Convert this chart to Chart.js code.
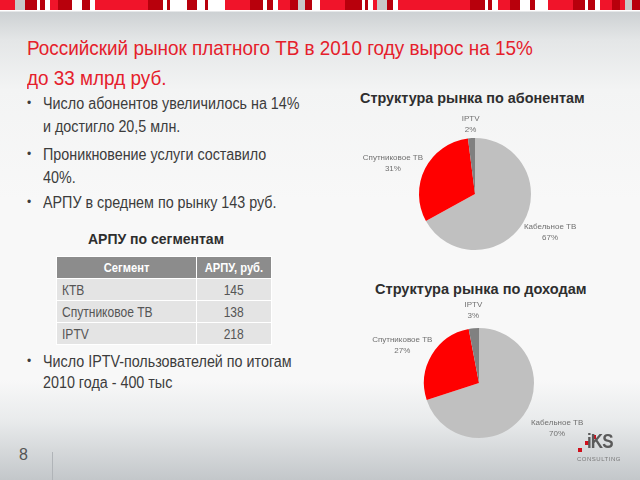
<!DOCTYPE html>
<html>
<head>
<meta charset="utf-8">
<script src="https://cdn.jsdelivr.net/npm/chart.js@4"></script>
<style>
  html, body { margin: 0; padding: 0; }
  body { width: 640px; height: 480px; overflow: hidden; font-family: "Liberation Sans", Arial, sans-serif; }
  #slide {
    position: relative; width: 640px; height: 480px; overflow: hidden;
    background: linear-gradient(to bottom, #ffffff 0px, #ffffff 11px, #cdd1d3 12px, #e4e6e7 40px, #f3f4f4 90px, #f8f8f8 200px, #f8f8f8 380px, #e9ebec 420px, #c3c7ca 480px);
  }
  .strip {
    position: absolute; left: 0; top: 0; width: 640px; height: 10px;
    background: linear-gradient(to right,
      #f0142a 0, #f0142a 15px, #c8c8c8 15px, #c8c8c8 25px, #b8000c 25px, #b8000c 37px, #fff 37px, #fff 40px,
      #b8000c 40px, #b8000c 45px, #fff 45px, #fff 50px, #f0142a 50px, #f0142a 58px, #b8000c 58px, #b8000c 72px,
      #fff 72px, #fff 82px, #b8000c 82px, #b8000c 90px, #fff 90px, #fff 95px, #f0142a 95px, #f0142a 148px,
      #b8000c 148px, #b8000c 163px, #fff 163px, #fff 167px, #b8000c 167px, #b8000c 170px, #fff 170px, #fff 187px,
      #b8000c 187px, #b8000c 197px, #fff 197px, #fff 205px, #b8000c 205px, #b8000c 208px, #fff 208px, #fff 225px,
      #f0142a 225px, #f0142a 250px, #b8000c 250px, #b8000c 263px, #fff 263px, #fff 267px, #b8000c 267px, #b8000c 273px,
      #fff 273px, #fff 278px, #f0142a 278px, #f0142a 290px, #b8000c 290px, #b8000c 298px, #c8c8c8 298px, #c8c8c8 305px,
      #b8000c 305px, #b8000c 312px, #fff 312px, #fff 320px, #f0142a 320px, #f0142a 345px, #b8000c 345px, #b8000c 362px,
      #fff 362px, #fff 365px, #b8000c 365px, #b8000c 368px, #fff 368px, #fff 373px, #f0142a 373px, #f0142a 377px,
      #c8c8c8 377px, #c8c8c8 387px, #b8000c 387px, #b8000c 393px, #fff 393px, #fff 398px, #f0142a 398px, #f0142a 470px,
      #b8000c 470px, #b8000c 485px, #fff 485px, #fff 488px, #b8000c 488px, #b8000c 492px, #fff 492px, #fff 498px,
      #f0142a 498px, #f0142a 510px, #b8000c 510px, #b8000c 520px, #fff 520px, #fff 530px, #b8000c 530px, #b8000c 535px,
      #fff 535px, #fff 548px, #f0142a 548px, #f0142a 573px, #b8000c 573px, #b8000c 585px, #fff 585px, #fff 588px,
      #b8000c 588px, #b8000c 595px, #fff 595px, #fff 600px, #f0142a 600px, #f0142a 612px, #b8000c 612px, #b8000c 620px,
      #f0142a 620px, #f0142a 625px, #c8c8c8 625px, #c8c8c8 632px, #b8000c 632px, #b8000c 640px);
  }
  .title { position: absolute; left: 27px; color: #e5202b; font-size: 21px; white-space: nowrap; line-height: 1; transform: scaleX(0.9); transform-origin: left center; }
  .line { position: absolute; left: 43px; color: #3c3c3c; font-size: 16px; white-space: nowrap; line-height: 1; transform: scaleX(0.895); transform-origin: left center; }
  .dot { position: absolute; left: 27px; color: #3c3c3c; font-size: 12px; line-height: 1; }
  .head { position: absolute; color: #2e2e2e; font-size: 16px; font-weight: bold; white-space: nowrap; line-height: 1; transform-origin: left center; }
  #arpu { position: absolute; left: 56px; top: 256px; width: 216px; border-collapse: collapse; font-size: 14px; }
  #arpu th { background: #8c8c8c; color: #fff; font-weight: bold; height: 21px; padding: 0; border: 1px solid #fff; font-size: 13px; }
  #arpu td { background: #e4e4e4; color: #555; height: 21px; padding: 0 5px; border: 1px solid #fff; white-space: nowrap; }
  #arpu td.v { text-align: center; }
  #arpu span { display: inline-block; transform: scaleX(0.86); }
  #arpu td span { transform-origin: left center; }
  #arpu td.v span, #arpu th span { transform-origin: center center; }
  canvas { position: absolute; }
  .pagenum { position: absolute; left: 19px; top: 446px; font-size: 16px; color: #555; }
  .vline { position: absolute; left: 52px; top: 452px; width: 1px; height: 28px; background: #b0b4b8; }
  .logo { position: absolute; left: 576px; top: 432px; width: 50px; height: 30px; }
  .logo .sq { position: absolute; width: 4px; height: 4px; background: #d0101c; }
  .logo .ks { position: absolute; left: 11px; top: -2px; font-weight: bold; font-size: 20px; color: #5a5a5a; letter-spacing: -1px; transform: scaleX(0.85); transform-origin: left center; }
  .logo .cons { position: absolute; left: 1px; top: 24px; font-size: 6px; color: #7a7a7a; letter-spacing: 0.5px; }
</style>
</head>
<body>
<div id="slide">
  <div class="strip"></div>
  <div class="title" style="top:37px">Российский рынок платного ТВ в 2010 году вырос на 15%</div>
  <div class="title" style="top:67px">до 33 млрд руб.</div>

  <div class="dot" style="top:97px">•</div>
  <div class="line" style="top:96px">Число абонентов увеличилось на 14%</div>
  <div class="line" style="top:119px">и достигло 20,5 млн.</div>
  <div class="dot" style="top:148px">•</div>
  <div class="line" style="top:147px">Проникновение услуги составило</div>
  <div class="line" style="top:170px">40%.</div>
  <div class="dot" style="top:196px">•</div>
  <div class="line" style="top:195px">АРПУ в среднем по рынку 143 руб.</div>

  <div class="head" style="left:88px; top:232px; font-size:14px">АРПУ по сегментам</div>
  <table id="arpu"></table>

  <div class="dot" style="top:355px">•</div>
  <div class="line" style="top:354px">Число IPTV-пользователей по итогам</div>
  <div class="line" style="top:375px">2010 года - 400 тыс</div>

  <div class="head" style="left:360px; top:90px; font-size:15px; transform:scaleX(0.96)">Структура рынка по абонентам</div>
  <div class="head" style="left:375px; top:281px; font-size:15px; transform:scaleX(0.97)">Структура рынка по доходам</div>

  <canvas id="pie-subs" width="300" height="160" style="left:325px; top:114px"></canvas>
  <canvas id="pie-rev" width="300" height="168" style="left:329px; top:294px"></canvas>

  <div class="pagenum">8</div>
  <div class="vline"></div>
  <div class="logo">
    <div class="sq" style="left:16px; top:3px"></div>
    <div class="sq" style="left:9px; top:9px"></div>
    <div class="sq" style="left:2px; top:16px"></div>
    <div class="ks">iKS</div>
    <div class="cons">CONSULTING</div>
  </div>
</div>

<script>
// pie segments (clockwise from 12 o'clock)
const segments = ['Кабельное ТВ', 'Спутниковое ТВ', 'IPTV'];
const subscriberShare = [67, 31, 2];
const revenueShare = [70, 27, 3];
const sliceColors = ['#c0c0c0', '#ff0000', '#808080'];

// ARPU table
const arpuHeader = ['Сегмент', 'АРПУ, руб.'];
const arpuSegments = ['КТВ', 'Спутниковое ТВ', 'IPTV'];
const arpuValues = [145, 138, 218];

const table = document.getElementById('arpu');
let html = '<tr><th style="width:139px"><span>' + arpuHeader[0] + '</span></th><th><span>' + arpuHeader[1] + '</span></th></tr>';
arpuSegments.forEach((s, i) => {
    html += '<tr><td><span>' + s + '</span></td><td class="v"><span>' + arpuValues[i] + '</span></td></tr>';
});
table.innerHTML = html;

// labels outside the pie, placed along each slice's mid angle
const outsideLabels = {
    id: 'outsideLabels',
    afterDatasetsDraw(chart, args, opts) {
        const ctx = chart.ctx;
        const meta = chart.getDatasetMeta(0);
        const values = chart.data.datasets[0].data;
        ctx.save();
        ctx.font = '8px "Liberation Sans", sans-serif';
        ctx.fillStyle = '#707070';
        ctx.textAlign = 'center';
        ctx.textBaseline = 'middle';
        meta.data.forEach((arc, i) => {
            const p = arc.getProps(['x', 'y', 'startAngle', 'endAngle', 'outerRadius'], true);
            const mid = (p.startAngle + p.endAngle) / 2 + opts.nudge[i] * Math.PI / 180;
            const d = p.outerRadius * opts.dist[i];
            const x = p.x + Math.cos(mid) * d;
            const y = p.y + Math.sin(mid) * d;
            ctx.fillText(chart.data.labels[i], x, y - 5);
            ctx.fillText(values[i] + '%', x, y + 6);
        });
        ctx.restore();
    }
};

function makePie(id, values, padding, dist, nudge) {
    return new Chart(id, {
        type: 'pie',
        data: {
            labels: segments,
            datasets: [{
                data: values,
                backgroundColor: sliceColors,
                borderWidth: 0
            }]
        },
        options: {
            responsive: false,
            animation: false,
            layout: { padding: padding },
            plugins: {
                legend: { display: false },
                tooltip: { enabled: false },
                outsideLabels: { dist: dist, nudge: nudge }
            }
        },
        plugins: [outsideLabels]
    });
}

makePie('pie-subs', subscriberShare, 24, [1.5, 1.57, 1.25], [-4, -6, 0]);
makePie('pie-rev', revenueShare, { top: 34, bottom: 24, left: 24, right: 24 }, [1.64, 1.56, 1.33], [-6, -4, 1]);
</script>
</body>
</html>
